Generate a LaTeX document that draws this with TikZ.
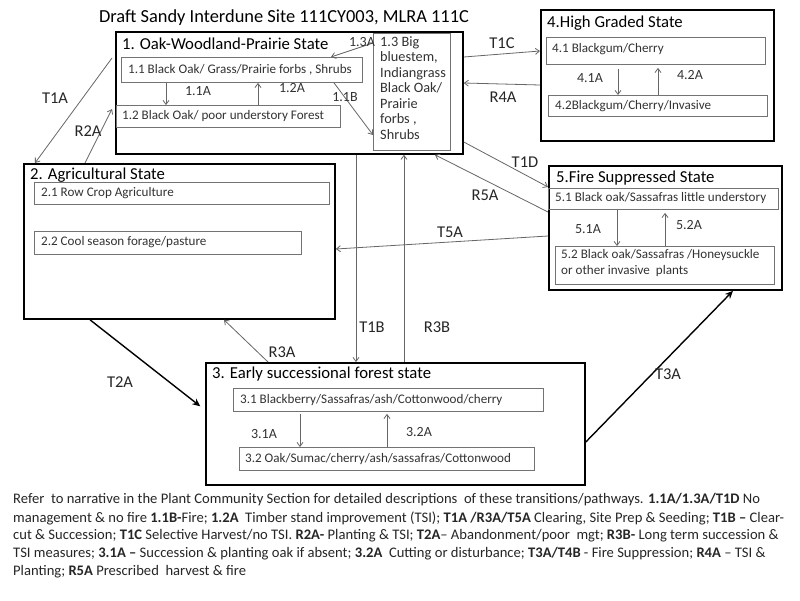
\documentclass[tikz,border=0pt]{standalone}
\usepackage{fontspec}
\setmainfont{Carlito}
\usetikzlibrary{arrows.meta}
\begin{document}
\begin{tikzpicture}[x=1pt,y=-1pt,
  statebox/.style={draw=black,line width=1.8pt,anchor=north west,inner sep=0pt},
  subbox/.style={draw=black!55,line width=0.9pt,anchor=north west,inner sep=0pt},
  sttitle/.style={anchor=west,inner sep=0pt,font=\fontsize{16.7}{18}\selectfont},
  subtext/.style={anchor=west,inner sep=0pt,font=\fontsize{13.1}{14}\selectfont,text=black!80},
  plabel/.style={inner sep=0pt,font=\fontsize{14}{15}\selectfont,text=black!80},
  tlabel/.style={inner sep=0pt,font=\fontsize{16.5}{18}\selectfont,text=black!85},
  conn/.style={draw=black!60,line width=0.8pt,-{Straight Barb[length=4pt,width=6pt]}},
  bigconn/.style={draw=black,line width=1.4pt,-{Stealth[length=8pt,width=7pt]}},
  note/.style={anchor=west,inner sep=0pt,font=\fontsize{14.6}{16}\selectfont,text=black!85}
]
\useasboundingbox[fill=white] (0,0) rectangle (800,600);

% title
\node[inner sep=0pt,font=\fontsize{18.4}{20}\selectfont] (title) at (284,18) {Draft Sandy Interdune Site 111CY003, MLRA 111C};

% state 1
\node[statebox,minimum width=347pt,minimum height=122pt] (s1) at (115,31) {};
\node[sttitle] (s1t) at (122,44) {1. Oak-Woodland-Prairie State};
\node[subbox,minimum width=241pt,minimum height=25pt] (b11) at (121,57) {};
\node[subtext] (b11t) at (128,69.5) {1.1 Black Oak/ Grass/Prairie forbs , Shrubs};
\node[subbox,minimum width=224pt,minimum height=22pt] (b12) at (116,105) {};
\node[subtext] (b12t) at (122,116) {1.2 Black Oak/ poor understory Forest};
\node[subbox,minimum width=77pt,minimum height=117pt] (b13) at (373,33) {};
\node[anchor=north west,inner sep=0pt,align=left,font=\fontsize{14.3}{15.5}\selectfont,text=black!80] (b13t) at (380,36)
  {1.3 Big\\bluestem,\\Indiangrass\\Black Oak/\\Prairie\\forbs ,\\Shrubs};
\draw[conn] (166,0 |- b11.south) -- (166,0 |- b12.north);
\draw[conn] (258,0 |- b12.north) -- (258,0 |- b11.south);
\node[plabel] (l11a) at (198,91) {1.1A};
\node[plabel] (l12a) at (292,88) {1.2A};
\draw[conn] (b13.west |- 0,43) -- (331,0 |- b11.north);
\node[plabel] (l13a) at (362,42) {1.3A};
\draw[conn] (334,0 |- b11.south) -- (b13.west |- 0,135);
\node[plabel] (l11b) at (345,97) {1.1B};

% state 4
\node[statebox,minimum width=233pt,minimum height=131pt] (s4) at (540,9) {};
\node[sttitle] (s4t) at (547,23) {4.High Graded State};
\node[subbox,minimum width=219pt,minimum height=27pt] (b41) at (546,37) {};
\node[subtext] (b41t) at (552,49) {4.1 Blackgum/Cherry};
\node[subbox,minimum width=219pt,minimum height=21pt] (b42) at (548,95) {};
\node[subtext] (b42t) at (555,106) {4.2Blackgum/Cherry/Invasive};
\draw[conn] (618,0 |- b41.south) ++(0,4) -- (618,0 |- b42.north);
\draw[conn] (658,0 |- b42.north) -- ([yshift=-3pt]658,0 |- b41.south);
\node[plabel] (l41a) at (590,78) {4.1A};
\node[plabel] (l42a) at (690,75) {4.2A};

% state 2
\node[statebox,minimum width=311pt,minimum height=155pt] (s2) at (23,163) {};
\node[sttitle] (s2t) at (30,175) {2. Agricultural State};
\node[subbox,minimum width=295pt,minimum height=22pt] (b21) at (34,182) {};
\node[subtext] (b21t) at (41,193) {2.1 Row Crop Agriculture};
\node[subbox,minimum width=267pt,minimum height=23pt] (b22) at (34,231) {};
\node[subtext] (b22t) at (41,242.5) {2.2 Cool season forage/pasture};

% state 5
\node[statebox,minimum width=233pt,minimum height=124pt] (s5) at (548,165) {};
\node[sttitle] (s5t) at (556,178) {5.Fire Suppressed State};
\node[subbox,minimum width=230pt,minimum height=21pt] (b51) at (548,188) {};
\node[subtext] (b51t) at (555,198.5) {5.1 Black oak/Sassafras little understory};
\node[subbox,minimum width=219pt,minimum height=38pt] (b52) at (555,246) {};
\node[anchor=north west,inner sep=0pt,align=left,font=\fontsize{13.1}{16}\selectfont,text=black!80] (b52t) at (561,249)
  {5.2 Black oak/Sassafras /Honeysuckle\\or other invasive~ plants};
\draw[conn] (617,0 |- b51.south) -- (617,0 |- b52.north);
\draw[conn] (665,0 |- b52.north) -- ([yshift=-3pt]665,0 |- b51.south);
\node[plabel] (l51a) at (588,229) {5.1A};
\node[plabel] (l52a) at (689,225) {5.2A};

% state 3
\node[statebox,minimum width=379pt,minimum height=122pt] (s3) at (205,362) {};
\node[sttitle] (s3t) at (212,374) {3. Early successional forest state};
\node[subbox,minimum width=310pt,minimum height=23pt] (b31) at (233,388) {};
\node[subtext] (b31t) at (240,399.5) {3.1 Blackberry/Sassafras/ash/Cottonwood/cherry};
\node[subbox,minimum width=295pt,minimum height=23pt] (b32) at (239,447) {};
\node[subtext] (b32t) at (245,458.5) {3.2 Oak/Sumac/cherry/ash/sassafras/Cottonwood};
\draw[conn] ([yshift=-2pt]300,0 |- b31.south) -- (300,0 |- b32.north);
\draw[conn] (387,0 |- b32.north) -- ([yshift=-2pt]387,0 |- b31.south);
\node[plabel] (l31a) at (264,434) {3.1A};
\node[plabel] (l32a) at (419,432) {3.2A};

% transitions
\draw[conn] (s1.east |- 0,57) -- (s4.west |- 0,51);
\node[tlabel] (lt1c) at (502,43) {T1C};
\draw[conn] (s4.west |- 0,85) -- (s1.east |- 0,83);
\node[tlabel] (lr4a) at (503,97) {R4A};
\draw[conn] ([xshift=-3pt]s1.west |- 0,58) -- (35,0 |- s2.north);
\node[tlabel] (lt1a) at (55,98) {T1A};
\draw[conn] (85,0 |- s2.north) -- ([xshift=-3pt]s1.west |- 0,109);
\node[tlabel] (lr2a) at (88,131) {R2A};
\draw[conn] (s1.east |- 0,142) -- (s5.west |- 0,187);
\node[tlabel] (lt1d) at (525,162) {T1D};
\draw[conn] (s5.west |- 0,212) -- (435,0 |- s1.south);
\node[tlabel] (lr5a) at (485,195) {R5A};
\draw[conn] (s5.west |- 0,236) -- (s2.east |- 0,249);
\node[tlabel] (lt5a) at (450,232) {T5A};
\draw[conn] (356,0 |- s1.south) -- (356,0 |- s3.north);
\node[tlabel] (lt1b) at (372,327) {T1B};
\draw[conn] (404,0 |- s3.north) -- (404,0 |- s1.south);
\node[tlabel] (lr3b) at (437,327) {R3B};
\draw[conn] (268,0 |- s3.north) -- (224,0 |- s2.south);
\node[tlabel] (lr3a) at (282,352) {R3A};
\draw[bigconn,shorten >=6pt] (90,0 |- s2.south) -- (s3.west |- 0,410);
\node[tlabel] (lt2a) at (120,382) {T2A};
\draw[bigconn] (s3.east |- 0,442) -- (733,0 |- s5.south);
\node[tlabel] (lt3a) at (668,374) {T3A};

% notes
\node[note] (n1) at (13,500) {Refer~ to narrative in the Plant Community Section for detailed descriptions~ of these transitions/pathways. \textbf{1.1A/1.3A/T1D} No};
\node[note] (n2) at (13,518) {management \& no fire \textbf{1.1B-}Fire; \textbf{1.2A}~ Timber stand improvement (TSI); \textbf{T1A /R3A/T5A} Clearing, Site Prep \& Seeding; \textbf{T1B –} Clear-};
\node[note] (n3) at (13,536) {cut \& Succession; \textbf{T1C} Selective Harvest/no TSI. \textbf{R2A-} Planting \& TSI; \textbf{T2A}– Abandonment/poor~ mgt; \textbf{R3B-} Long term succession \&};
\node[note] (n4) at (13,554) {TSI measures; \textbf{3.1A –} Succession \& planting oak if absent; \textbf{3.2A}~ Cutting or disturbance; \textbf{T3A/T4B} - Fire Suppression; \textbf{R4A} – TSI \&};
\node[note] (n5) at (13,572) {Planting; \textbf{R5A} Prescribed~ harvest \& fire};
\end{tikzpicture}
\end{document}
